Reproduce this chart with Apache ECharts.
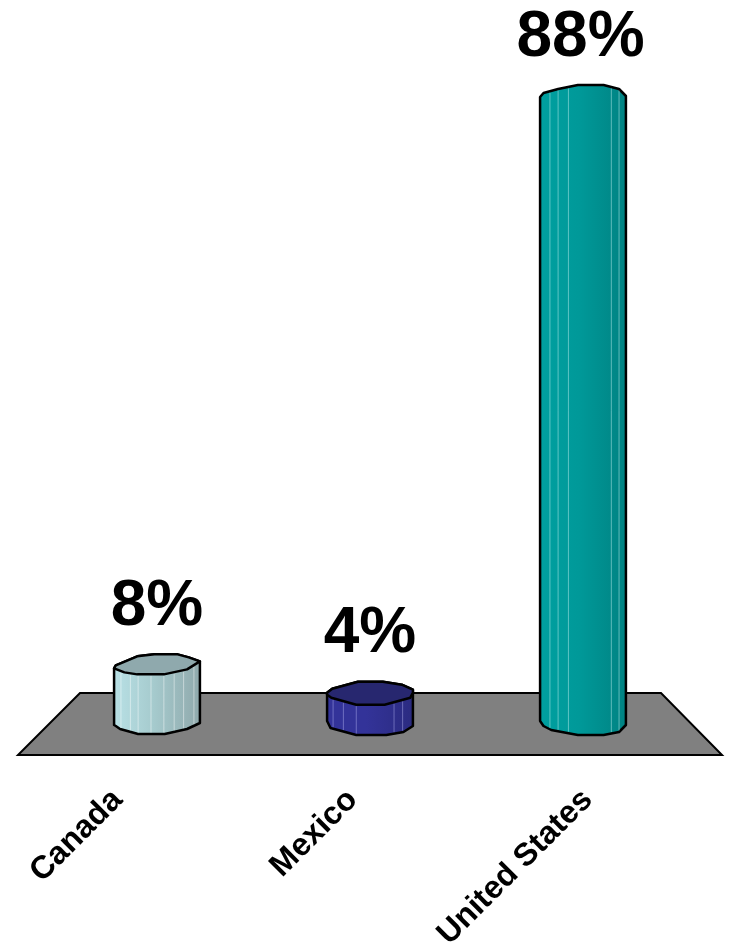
<!DOCTYPE html>
<html><head><meta charset="utf-8">
<style>html,body{margin:0;padding:0;background:#fff}#c{width:732px;height:944px}</style>
<script src="https://cdn.jsdelivr.net/npm/echarts@6/dist/echarts.min.js"></script>
</head><body><div id="c"></div>
<script>
const categories = ['Canada', 'Mexico', 'United States'];
const shares = [8, 4, 88];

// Hand-drawn cylinder silhouettes: [fraction of width, px offset]
const looks = [
  { shift: 4, labelDx: 0, side: ['#b9e1e6', '#a6cbce', '#8fa8ab'], cap: '#8fa9ad',
    upper: [[0,0],[.02,-3],[.27,-12],[.47,-14],[.74,-14],[.87,-11],[1,-7]],
    rim: [[0,0],[.12,4],[.27,6],[.58,6],[.85,1],[1,-7]],
    lower: [[0,0],[.02,1],[.07,4],[.28,9],[.59,9],[.85,4],[1,-2]],
    lines: [.08,.19,.28,.43,.58,.7,.81,.93], lineColor: 'rgba(255,255,255,.45)' },
  { shift: 0, labelDx: 0, side: ['#333399', '#333399', '#2b2b80'], cap: '#27276f',
    upper: [[0,0],[.06,-4],[.36,-11],[.65,-11],[.87,-8],[1,-3]],
    rim: [[0,2],[.05,5],[.34,12],[.67,12],[.97,5],[1,0]],
    lower: [[0,0],[.04,7],[.34,14],[.69,14],[.89,11],[1,5]],
    lines: [.07,.19,.34,.78,.88], lineColor: 'rgba(200,200,255,.4)' },
  { shift: 0, labelDx: -2.5, side: ['#00a0a0', '#009999', '#008282'], cap: null,
    upper: [[0,-1],[.04,-5],[.21,-9],[.44,-13],[.74,-13],[.92,-9],[1,-2]],
    rim: null,
    lower: [[0,0],[.04,5],[.13,9],[.44,14],[.74,14],[.92,11],[1,4]],
    lines: [.115,.21,.33,.83,.92], lineColor: 'rgba(190,240,240,.5)' }
];

function at(profile, f) {
  for (let i = 1; i < profile.length; i++) {
    if (f <= profile[i][0]) {
      const a = profile[i - 1], b = profile[i];
      return a[1] + (b[1] - a[1]) * (f - a[0]) / (b[0] - a[0]);
    }
  }
  return profile[profile.length - 1][1];
}

function renderCylinder(params, api) {
  const i = api.value(0), v = api.value(1);
  const look = looks[i];
  const cx = api.coord([i, 0])[0];
  const base = api.coord([i, 0])[1] + look.shift;
  const top = api.coord([i, v])[1] + look.shift;
  const w = api.size([1, 0])[0] * 0.403;
  const left = cx - w / 2;
  const pt = (p, y) => [left + p[0] * w, y + p[1]];
  const body = look.upper.map(p => pt(p, top)).concat(look.lower.slice().reverse().map(p => pt(p, base)));
  const fill = { type: 'linear', x: 0, y: 0, x2: 1, y2: 0, colorStops: [
    { offset: 0, color: look.side[0] }, { offset: .45, color: look.side[1] }, { offset: 1, color: look.side[2] }] };
  const kids = [{ type: 'polygon', shape: { points: body }, style: { fill, stroke: '#000', lineWidth: 2.5, lineJoin: 'round' } }];
  look.lines.forEach(f => {
    const y1 = top + at(look.rim || look.upper, f), y2 = base + at(look.lower, f);
    kids.push({ type: 'line', shape: { x1: left + f * w, y1: y1 + 1.5, x2: left + f * w, y2: y2 - 1.5 },
      style: { stroke: look.lineColor, lineWidth: 1 } });
  });
  if (look.cap) {
    const cap = look.upper.map(p => pt(p, top)).concat(look.rim.slice().reverse().map(p => pt(p, top)));
    kids.push({ type: 'polygon', shape: { points: cap }, style: { fill: look.cap, stroke: '#000', lineWidth: 2.5, lineJoin: 'round' } });
  }
  kids.push({ type: 'text', style: { text: v + '%', x: cx + look.labelDx, y: top + at(look.upper, .6) - 15, align: 'center', verticalAlign: 'bottom',
    fill: '#000', font: 'bold 64px "Liberation Sans", Arial, sans-serif' } });
  return { type: 'group', children: kids };
}

const chart = echarts.init(document.getElementById('c'), null, { renderer: 'canvas' });
chart.setOption({
  animation: false,
  backgroundColor: '#fff',
  graphic: [{ type: 'polygon', z: 0, shape: { points: [[80, 693], [661, 693], [722, 755], [18, 755]] },
    style: { fill: '#808080', stroke: '#000', lineWidth: 2 } }],
  grid: [
    { left: 50.5, width: 639, top: 98, height: 623 },
    { left: -7, width: 712, top: 788.5, height: 10 }
  ],
  xAxis: [
    { type: 'category', gridIndex: 0, data: categories, show: false },
    { type: 'category', gridIndex: 1, data: categories, axisLine: { show: false }, axisTick: { show: false },
      axisLabel: { interval: 0, rotate: 45, margin: 4, color: '#000', fontSize: 32, fontWeight: 'bold', fontFamily: '"Liberation Sans", Arial, sans-serif' } }
  ],
  yAxis: [
    { type: 'value', gridIndex: 0, min: 0, max: 88, show: false },
    { type: 'value', gridIndex: 1, show: false }
  ],
  series: [{
    type: 'custom', xAxisIndex: 0, yAxisIndex: 0, clip: false, z: 3,
    data: categories.map((c, i) => [i, shares[i]]),
    encode: { x: 0, y: 1 },
    renderItem: renderCylinder
  }]
});
</script></body></html>
